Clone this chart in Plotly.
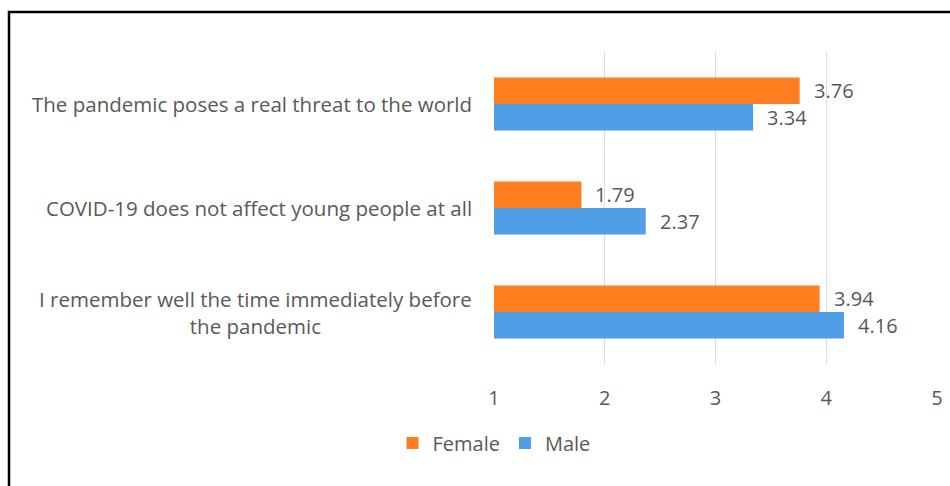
import plotly.graph_objects as go

categories = [
    "I remember well the time immediately before<br>the pandemic",
    "COVID-19 does not affect young people at all",
    "The pandemic poses a real threat to the world",
]
female = [3.94, 1.79, 3.76]
male = [4.16, 2.37, 3.34]
x_ticks = [1, 2, 3, 4, 5]

ORANGE = "#FF7E1F"
BLUE = "#509FE6"
TEXT = "#595959"
FONT = "Open Sans"

L, R, T, B = 494, 7, 52, 122
PW = 950 - L - R
PH = 486 - T - B

fig = go.Figure()
fig.add_trace(go.Bar(y=categories, x=male, orientation="h", name="Male",
                     marker=dict(color=BLUE, line=dict(width=0)), legendrank=2))
fig.add_trace(go.Bar(y=categories, x=female, orientation="h", name="Female",
                     marker=dict(color=ORANGE, line=dict(width=0)), legendrank=1))

# value labels
for i, c in enumerate(categories):
    for vals, off in ((female, 0.13), (male, -0.13)):
        fig.add_annotation(x=vals[i], y=i + off, xref="x", yref="y",
                           text=f"{vals[i]:.2f}", showarrow=False,
                           xanchor="left", yanchor="middle", xshift=12,
                           font=dict(family=FONT, size=20, color=TEXT))
    # category labels
    fig.add_annotation(x=0, y=i, xref="paper", yref="y", text=c,
                       showarrow=False, xanchor="right", yanchor="middle",
                       align="center", xshift=-20,
                       font=dict(family=FONT, size=20.5, color=TEXT))

# frame (left and top edges visible)
fig.add_shape(type="rect", xref="paper", yref="paper",
              x0=-(L - 9) / (PW - 6), x1=2, y0=-2, y1=(PH + T - 12) / PH,
              line=dict(color="black", width=2.5), fillcolor="rgba(0,0,0,0)")

fig.update_layout(
    width=950, height=486,
    margin=dict(l=L, r=R, t=T, b=B),
    paper_bgcolor="white", plot_bgcolor="white",
    barmode="group", bargap=0.49, bargroupgap=0,
    font=dict(family=FONT, color=TEXT),
    showlegend=True,
    legend=dict(orientation="h", x=(494 - L) / PW, xanchor="center",
                y=(PH + T - 443) / PH, yanchor="middle",
                font=dict(family=FONT, size=20, color=TEXT),
                itemwidth=30, tracegroupgap=0),
    xaxis=dict(range=[1, 5], tickvals=x_ticks, showgrid=True,
               gridcolor="#DDDDDD", gridwidth=1, zeroline=False,
               showline=False, ticks="", ticklabelstandoff=20,
               tickfont=dict(family=FONT, size=20, color=TEXT)),
    yaxis=dict(showticklabels=False, showgrid=False, zeroline=False,
               showline=False, ticks="", type="category",
               range=[-0.5, 2.5]),
)

fig.write_html("out.html")
